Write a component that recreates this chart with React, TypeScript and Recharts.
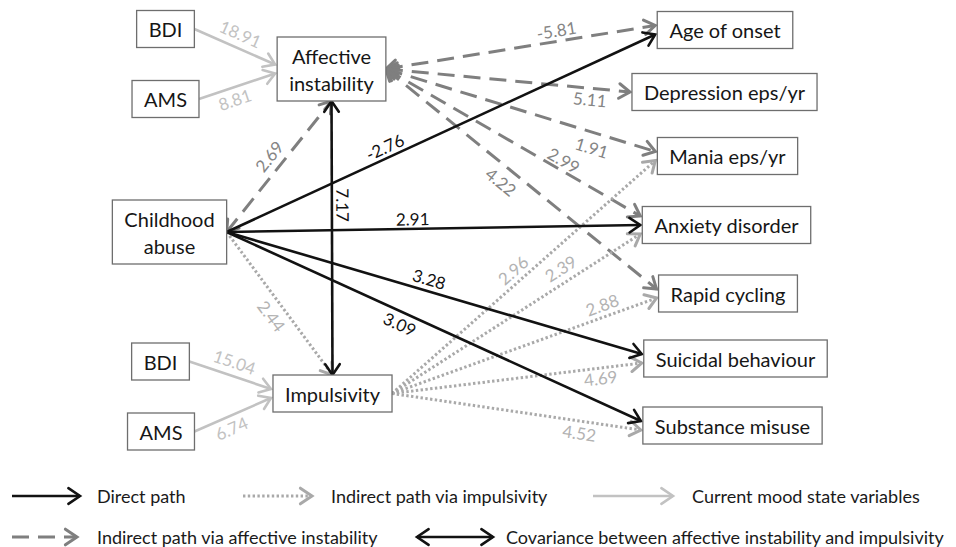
import React from 'react';
import { ScatterChart, Scatter, XAxis, YAxis, ReferenceLine, Legend } from 'recharts';

const W = 956;
const H = 547;

// nodes of the path diagram: id, label, centre position (diagram units = px)
const nodeIds = ['bdiA', 'amsA', 'affective', 'childhood', 'bdiI', 'amsI', 'impulsivity', 'age', 'depression', 'mania', 'anxiety', 'rapid', 'suicidal', 'substance'];
const nodeLabels = ['BDI', 'AMS', 'Affective\ninstability', 'Childhood\nabuse', 'BDI', 'AMS', 'Impulsivity', 'Age of onset', 'Depression eps/yr', 'Mania eps/yr', 'Anxiety disorder', 'Rapid cycling', 'Suicidal behaviour', 'Substance misuse'];
const nodeX = [165.5, 165.5, 331.5, 169.5, 160.5, 161, 332.5, 725, 724.5, 727.5, 726.5, 728, 735.5, 732.5];
const nodeY = [29, 99, 69, 232, 361.5, 431.5, 393.5, 30, 92, 156, 225, 293.5, 358.5, 425.5];

// paths: [from, to, coefficient]
const moodPaths = [
  ['bdiA', 'affective', '18.91'],
  ['amsA', 'affective', '8.81'],
  ['bdiI', 'impulsivity', '15.04'],
  ['amsI', 'impulsivity', '6.74'],
];
const directPaths = [
  ['childhood', 'age', '-2.76'],
  ['childhood', 'anxiety', '2.91'],
  ['childhood', 'suicidal', '3.28'],
  ['childhood', 'substance', '3.09'],
];
const affectivePaths = [
  ['childhood', 'affective', '2.69'],
  ['affective', 'age', '-5.81'],
  ['affective', 'depression', '5.11'],
  ['affective', 'mania', '1.91'],
  ['affective', 'anxiety', '2.99'],
  ['affective', 'rapid', '4.22'],
];
const impulsivityPaths = [
  ['childhood', 'impulsivity', '2.44'],
  ['impulsivity', 'mania', '2.96'],
  ['impulsivity', 'anxiety', '2.39'],
  ['impulsivity', 'rapid', '2.88'],
  ['impulsivity', 'suicidal', '4.69'],
  ['impulsivity', 'substance', '4.52'],
];
const covariancePaths = [['affective', 'impulsivity', '7.17']];

const legendLabels = ['Direct path', 'Indirect path via impulsivity', 'Current mood state variables', 'Indirect path via affective instability', 'Covariance between affective instability and impulsivity'];
const legendKinds = ['direct', 'impulsivity', 'mood', 'affective', 'covariance'];

// where each coefficient sits along its path: [fraction, perpendicular offset]
const labelPlace: Record<string, [number, number]> = {
  '18.91': [0.5, 14], '8.81': [0.42, -12], '15.04': [0.5, 14], '6.74': [0.42, -12],
  '-2.76': [0.38, 11], '2.91': [0.45, 10], '3.28': [0.48, 12], '3.09': [0.43, -12],
  '2.69': [0.51, 14], '-5.81': [0.64, 11], '5.11': [0.84, -11], '1.91': [0.78, -15], '2.99': [0.68, 10], '4.22': [0.46, -15],
  '2.44': [0.53, -14], '2.96': [0.49, 12], '2.39': [0.71, 14], '2.88': [0.81, 12], '4.69': [0.83, -10], '4.52': [0.76, -12],
  '7.17': [0.38, 11],
};

const STYLES: Record<string, any> = {
  direct: { stroke: '#121212', width: 2.6, dash: undefined, text: '#121212', head: 'end' },
  affective: { stroke: '#7f7f7f', width: 3, dash: '17 9', text: '#858585', head: 'both' },
  impulsivity: { stroke: '#a9a9a9', width: 3, dash: '2.4 2.4', text: '#b3b3b3', head: 'end' },
  mood: { stroke: '#c2c2c2', width: 2.6, dash: undefined, text: '#c2c2c2', head: 'end' },
  covariance: { stroke: '#121212', width: 2.6, dash: undefined, text: '#121212', head: 'both' },
};

const FONT = 'Lato, "Open Sans", sans-serif';

let ctx: CanvasRenderingContext2D | null = null;
function measure(s: string, font: string) {
  if (!ctx) ctx = document.createElement('canvas').getContext('2d');
  if (!ctx) return s.length * 9;
  ctx.font = font;
  return ctx.measureText(s).width;
}

const nodes = nodeIds.map((id, i) => {
  const lines = nodeLabels[i].split('\n');
  const tw = Math.max(...lines.map((l) => measure(l, `20px ${FONT}`)));
  return { id, lines, x: nodeX[i], y: nodeY[i], w: tw + 24, h: lines.length > 1 ? 64 : 37 };
});
const nodeById: Record<string, any> = {};
nodes.forEach((n) => (nodeById[n.id] = n));

type Edge = { from: string; to: string; value: string; kind: string };
const edges: Edge[] = [
  ...moodPaths.map(([from, to, value]) => ({ from, to, value, kind: 'mood' })),
  ...affectivePaths.map(([from, to, value]) => ({ from, to, value, kind: 'affective' })),
  ...impulsivityPaths.map(([from, to, value]) => ({ from, to, value, kind: 'impulsivity' })),
  ...directPaths.map(([from, to, value]) => ({ from, to, value, kind: 'direct' })),
  ...covariancePaths.map(([from, to, value]) => ({ from, to, value, kind: 'covariance' })),
];

function attachMode(e: Edge) {
  const s = nodeById[e.from];
  const t = nodeById[e.to];
  const dx = t.x - s.x;
  const dy = t.y - s.y;
  if (Math.abs(dx) < 20) return 'vertical';
  if (Math.abs(dy) > 0.8 * Math.abs(dx)) return 'toTopBottom';
  return 'side';
}

// spread arrows that arrive on the same side of a box
const spread: Record<number, number> = {};
nodeIds.forEach((id) => {
  const incoming = edges
    .map((e, i) => ({ e, i }))
    .filter(({ e }) => e.to === id && attachMode(e) === 'side')
    .sort((a, b) => nodeById[a.e.from].y - nodeById[b.e.from].y);
  incoming.forEach(({ i }, k) => (spread[i] = (k - (incoming.length - 1) / 2) * 9));
});

const segments = edges.map((e, i) => {
  const s = nodeById[e.from];
  const t = nodeById[e.to];
  const mode = attachMode(e);
  let x1: number, y1: number, x2: number, y2: number;
  if (mode === 'vertical') {
    x1 = s.x; y1 = s.y + s.h / 2; x2 = t.x; y2 = t.y - t.h / 2;
  } else if (mode === 'toTopBottom') {
    x1 = s.x + s.w / 2; y1 = s.y;
    x2 = t.x; y2 = t.y > s.y ? t.y - t.h / 2 : t.y + t.h / 2;
  } else {
    x1 = s.x + s.w / 2; y1 = s.y;
    x2 = t.x - t.w / 2 - 2; y2 = t.y + (spread[i] || 0);
  }
  return { ...e, x1, y1, x2, y2 };
});

function Head({ x, y, ang, color, width, size = 13 }: any) {
  const a = (34 * Math.PI) / 180;
  const p1 = [x - size * Math.cos(ang - a), y - size * Math.sin(ang - a)];
  const p2 = [x - size * Math.cos(ang + a), y - size * Math.sin(ang + a)];
  return <polyline points={`${p1[0]},${p1[1]} ${x},${y} ${p2[0]},${p2[1]}`} fill="none" stroke={color} strokeWidth={width} strokeLinecap="round" strokeLinejoin="miter" />;
}

function Arrow({ x1, y1, x2, y2, kind, size, startHead = true }: any) {
  const st = STYLES[kind];
  const ang = Math.atan2(y2 - y1, x2 - x1);
  return (
    <g>
      <line x1={x1} y1={y1} x2={x2} y2={y2} stroke={st.stroke} strokeWidth={st.width} strokeDasharray={st.dash} />
      <Head x={x2} y={y2} ang={ang} color={st.stroke} width={st.width} size={size} />
      {st.head === 'both' && startHead && <Head x={x1} y={y1} ang={ang + Math.PI} color={st.stroke} width={st.width} size={size} />}
    </g>
  );
}

function edgeShape(seg: any) {
  return (props: any) => {
    const { x1, y1, x2, y2 } = props;
    const st = STYLES[seg.kind];
    const [t, off] = labelPlace[seg.value] || [0.5, 10];
    const len = Math.hypot(x2 - x1, y2 - y1);
    const ux = (x2 - x1) / len;
    const uy = (y2 - y1) / len;
    const lx = x1 + (x2 - x1) * t + uy * off;
    const ly = y1 + (y2 - y1) * t - ux * off;
    let deg = (Math.atan2(uy, ux) * 180) / Math.PI;
    if (deg > 90.5 || deg < -90) deg += 180;
    return (
      <g>
        <Arrow x1={x1} y1={y1} x2={x2} y2={y2} kind={seg.kind} />
        <text x={lx} y={ly} transform={`rotate(${deg} ${lx} ${ly})`} textAnchor="middle" dominantBaseline="central" fill={st.text} fontSize={17} fontFamily={FONT}>
          {seg.value}
        </text>
      </g>
    );
  };
}

function NodeBox(props: any) {
  const { cx, cy, payload } = props;
  const n = payload;
  const lh = 27;
  const y0 = cy - ((n.lines.length - 1) * lh) / 2;
  return (
    <g>
      <rect x={cx - n.w / 2} y={cy - n.h / 2} width={n.w} height={n.h} fill="#fff" stroke="#6e6e6e" strokeWidth={1.3} />
      {n.lines.map((l: string, k: number) => (
        <text key={k} x={cx} y={y0 + k * lh} textAnchor="middle" dominantBaseline="central" fontSize={20} fill="#161616" fontFamily={FONT}>
          {l}
        </text>
      ))}
    </g>
  );
}

const legendPos = [
  { ax: 12, bx: 80, tx: 97, y: 28 },
  { ax: 243, bx: 312, tx: 331, y: 28 },
  { ax: 593, bx: 673, tx: 692, y: 28 },
  { ax: 12, bx: 77, tx: 97, y: 69 },
  { ax: 417, bx: 493, tx: 506, y: 69 },
];

function LegendBlock() {
  return (
    <svg width={W} height={80} style={{ display: 'block', overflow: 'visible' }}>
      {legendLabels.map((label, i) => {
        const p = legendPos[i];
        const kind = legendKinds[i];
        return (
          <g key={label}>
            <Arrow x1={p.ax} y1={p.y} x2={p.bx} y2={p.y} kind={kind} size={14} startHead={kind === 'covariance'} />
            <text x={p.tx} y={p.y} dominantBaseline="central" fontSize={18} fill="#1a1a1a" fontFamily={FONT}>
              {label}
            </text>
          </g>
        );
      })}
    </svg>
  );
}

export default function App() {
  return (
    <div style={{ position: 'absolute', left: 0, top: 0, width: W, height: H, background: '#fff' }}>
      <ScatterChart width={W} height={H} margin={{ top: 0, right: 0, bottom: 0, left: 0 }}>
        <XAxis type="number" dataKey="x" domain={[0, W]} hide allowDataOverflow />
        <YAxis type="number" dataKey="y" domain={[0, H]} reversed hide allowDataOverflow />
        {segments.map((seg, i) => (
          <ReferenceLine
            key={i}
            segment={[{ x: seg.x1, y: seg.y1 }, { x: seg.x2, y: seg.y2 }]}
            ifOverflow="visible"
            shape={edgeShape(seg)}
          />
        ))}
        <Scatter data={nodes} isAnimationActive={false} shape={(p: any) => <NodeBox {...p} />} />
        <Legend
          content={() => <LegendBlock />}
          wrapperStyle={{ position: 'absolute', left: 0, top: 468, width: W, height: 0, overflow: 'visible' }}
        />
      </ScatterChart>
    </div>
  );
}
